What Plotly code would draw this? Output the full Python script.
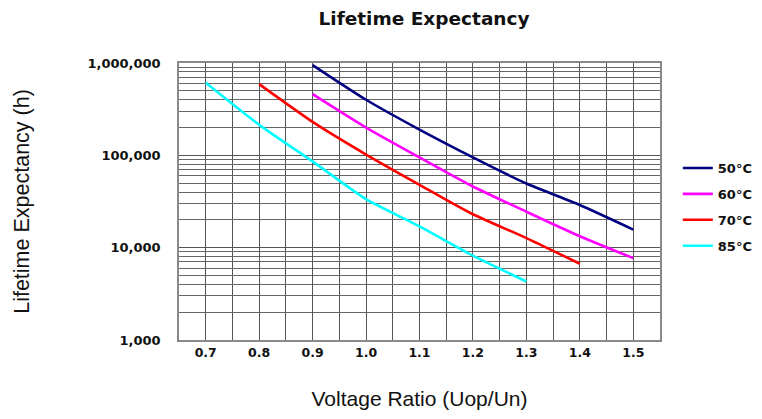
import plotly.graph_objects as go

# Data
ratio_50 = [0.9, 1.0, 1.1, 1.2, 1.3, 1.4, 1.5]
life_50 = [950000, 400000, 190000, 95000, 49500, 29000, 15700]

ratio_60 = [0.9, 1.0, 1.1, 1.2, 1.3, 1.4, 1.5]
life_60 = [460000, 200000, 95000, 46000, 24500, 13300, 7700]

ratio_70 = [0.8, 0.9, 1.0, 1.1, 1.2, 1.3, 1.4]
life_70 = [590000, 230000, 102000, 48000, 23000, 12700, 6700]

ratio_85 = [0.7, 0.8, 0.9, 1.0, 1.1, 1.2, 1.3]
life_85 = [610000, 214000, 86000, 33500, 17000, 8200, 4300]

series_names = ["50°C", "60°C", "70°C", "85°C"]
series_colors = ["#000080", "#FF00FF", "#FF0000", "#00FFFF"]

y_tick_vals = [1000, 10000, 100000, 1000000]
y_tick_text = ["1,000", "10,000", "100,000", "1,000,000"]
x_tick_vals = [0.7, 0.8, 0.9, 1.0, 1.1, 1.2, 1.3, 1.4, 1.5]
x_tick_text = ["0.7", "0.8", "0.9", "1.0", "1.1", "1.2", "1.3", "1.4", "1.5"]

BOLD_FONT = "DejaVu Sans, Verdana, sans-serif"
REG_FONT = "Liberation Sans, Arial, sans-serif"

fig = go.Figure()
for i, (xs, ys) in enumerate([(ratio_50, life_50), (ratio_60, life_60),
                              (ratio_70, life_70), (ratio_85, life_85)]):
    fig.add_trace(go.Scatter(
        x=xs, y=ys, mode="lines", name=f"<b>{series_names[i]}</b>",
        line=dict(color=series_colors[i], width=2.6, shape="spline", smoothing=0.6),
        legendgroup=f"g{i}",
    ))

minor_y = [m * 10 ** e for e in range(3, 6) for m in range(2, 10)]
minor_x = [0.65 + 0.1 * k for k in range(10)]

fig.update_layout(
    width=762, height=411,
    margin=dict(l=171, r=110, t=55, b=77),
    paper_bgcolor="white", plot_bgcolor="white",
    font=dict(family=REG_FONT, color="#111"),
    title=dict(text="<b>Lifetime Expectancy</b>", x=0.546, xanchor="center",
               y=0.975, yanchor="middle",
               font=dict(family=BOLD_FONT, size=18.5, color="#111")),
    showlegend=True,
    legend=dict(xref="container", x=0.879, xanchor="left",
                y=0.48, yanchor="middle",
                font=dict(family=BOLD_FONT, size=13, color="#111"),
                tracegroupgap=6, bgcolor="rgba(0,0,0,0)", itemwidth=30),
    xaxis=dict(
        range=[0.65, 1.55], tickmode="array", tickvals=x_tick_vals,
        ticktext=[f"<b>{t}</b>" for t in x_tick_text],
        tickfont=dict(family=BOLD_FONT, size=12.5, color="#111"),
        showgrid=True, gridcolor="#555", gridwidth=1,
        minor=dict(tickmode="array", tickvals=minor_x, showgrid=True,
                   gridcolor="#555", gridwidth=1, ticks=""),
        showline=True, linecolor="#888", linewidth=1.5, mirror=True,
        zeroline=False, ticks="",
        title=dict(text="Voltage Ratio (Uop/Un)", font=dict(size=21, color="#111"),
                   standoff=33),
    ),
    yaxis=dict(
        type="log", range=[3, 6], tickmode="array", tickvals=y_tick_vals,
        ticktext=[f"<b>{t}</b>" for t in y_tick_text],
        tickfont=dict(family=BOLD_FONT, size=13, color="#111"),
        showgrid=True, gridcolor="#555", gridwidth=1,
        minor=dict(tickmode="array", tickvals=minor_y, showgrid=True,
                   gridcolor="#666", gridwidth=1, ticks=""),
        showline=True, linecolor="#888", linewidth=1.5, mirror=True,
        zeroline=False, ticks="outside", ticklen=14, tickcolor="rgba(0,0,0,0)",
        title=dict(text="Lifetime Expectancy (h)", font=dict(size=21.5, color="#111"),
                   standoff=52),
    ),
)

fig.write_html("out.html")
